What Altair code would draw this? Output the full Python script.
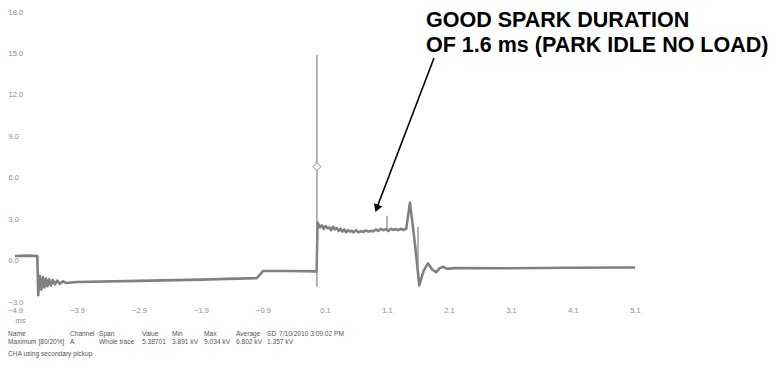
import altair as alt
import pandas as pd

# ---- data ----
time_ms = [-4.90, -4.70, -4.54, -4.525, -4.50, -4.475, -4.45, -4.425, -4.40, -4.375,
           -4.35, -4.32, -4.29, -4.255, -4.22, -4.175, -4.125, -4.08, -3.90, -2.90,
           -1.90, -1.00, -0.90, -0.50, -0.035,
           -0.02, 0.02, 0.05, 0.08, 0.11, 0.14, 0.17, 0.20, 0.23, 0.26, 0.29, 0.32,
           0.35, 0.38, 0.41, 0.44, 0.47, 0.50, 0.53, 0.56, 0.60, 0.64, 0.68, 0.72,
           0.76, 0.80, 0.84, 0.88, 0.92, 0.96, 1.00, 1.04, 1.08, 1.12, 1.16, 1.20,
           1.24, 1.28, 1.32, 1.36, 1.41, 1.47, 1.53, 1.58, 1.62, 1.69, 1.76, 1.83,
           1.89, 1.95, 2.01, 2.07, 2.20, 3.00, 4.00, 5.10]
voltage_kv = [0.33, 0.36, 0.33, -2.5, -1.1, -2.1, -1.2, -1.95, -1.3, -1.85,
              -1.35, -1.8, -1.4, -1.72, -1.45, -1.68, -1.5, -1.62, -1.55, -1.47,
              -1.38, -1.27, -0.76, -0.76, -0.78,
              2.75, 2.4, 2.55, 2.3, 2.5, 2.35, 2.4, 2.2, 2.45, 2.25, 2.35, 2.15,
              2.3, 2.1, 2.25, 2.05, 2.2, 2.1, 2.15, 2.05, 2.2, 2.05, 2.12, 2.08,
              2.18, 2.1, 2.15, 2.12, 2.25, 2.15, 2.3, 2.2, 2.28, 2.15, 2.3, 2.22,
              2.28, 2.2, 2.3, 2.22, 2.3, 4.2, 2.0, 0.0, -1.8, -0.75, -0.2, -0.65,
              -0.85, -0.55, -0.45, -0.6, -0.55, -0.56, -0.52, -0.5]

spike_t = [-0.03, 1.10, 1.60]
spike_low = [-1.9, 2.15, -0.45]
spike_high = [14.9, 3.25, 2.45]

marker_t = [-0.03]
marker_v = [6.8]

x_ticks = [-4.9, -3.9, -2.9, -1.9, -0.9, 0.1, 1.1, 2.1, 3.1, 4.1, 5.1]
y_ticks = [-3.0, 0.0, 3.0, 6.0, 9.0, 12.0, 15.0, 18.0]

header_cells = ["Name", "Channel", "Span", "Value", "Min", "Max", "Average", "SD",
                "7/10/2010 3:09:02 PM"]
row_cells = ["Maximum [80/20%]", "A", "Whole trace", "5.38701", "3.891 kV",
             "9.034 kV", "6.802 kV", "1.357 kV", ""]
note_text = "CHA using secondary pickup"
callout_lines = ["GOOD SPARK DURATION", "OF 1.6 ms (PARK IDLE NO LOAD)"]

# ---- layout (pixels relative to plot area) ----
col_x = [-7, 55, 84, 127, 157, 189, 221, 252, 264]
FONT = "Liberation Sans"
TRACE = "#808080"
LABEL = "#8c8c8c"
FOOT = "#555555"
FOOT_SIZE = 6.6

trace_df = pd.DataFrame({"t": time_ms, "v": voltage_kv})
spike_df = pd.DataFrame({"t": spike_t, "lo": spike_low, "hi": spike_high})
marker_df = pd.DataFrame({"t": marker_t, "v": marker_v})
one = pd.DataFrame({"k": [0]})

x_scale = alt.Scale(domain=[-4.9, 5.1], nice=False, zero=False)
y_scale = alt.Scale(domain=[-3, 18], nice=False, zero=False)

x_axis = alt.Axis(values=x_ticks, format=".1f", domain=False, ticks=False, tickSize=0,
                  grid=False, labelFontSize=7.5, labelColor=LABEL, labelFont=FONT,
                  labelPadding=4.5, labelFlush=False, labelOverlap=False,
                  title="ms", titleX=5, titleY=18, titleFontSize=7.5,
                  titleFontWeight="normal", titleColor=LABEL, titleFont=FONT,
                  titleAlign="center", titleBaseline="middle")
y_axis = alt.Axis(values=y_ticks, format=".1f", domain=False, ticks=False, tickSize=0,
                  grid=False, labelFontSize=7.5, labelColor=LABEL, labelFont=FONT,
                  labelAlign="left", labelPadding=7, labelFlush=False,
                  labelOverlap=False, title=None)

X = alt.X("t:Q", scale=x_scale, axis=x_axis)


def Y(field):
    return alt.Y(f"{field}:Q", scale=y_scale, axis=y_axis)


trace = alt.Chart(trace_df).mark_line(color=TRACE, strokeWidth=2.6,
                                      strokeJoin="round").encode(x=X, y=Y("v"))
spikes = alt.Chart(spike_df).mark_rule(color="#8a8a8a", strokeWidth=1.3).encode(
    x=X, y=Y("lo"), y2="hi:Q")
marker = alt.Chart(marker_df).mark_point(shape="diamond", filled=True, fill="white",
                                         stroke="#8a8a8a", strokeWidth=1, size=64,
                                         opacity=1).encode(x=X, y=Y("v"))

arrow_line = alt.Chart(one).mark_rule(color="black", strokeWidth=1.6).encode(
    x=alt.value(419), y=alt.value(46), x2=alt.value(361), y2=alt.value(198))
arrow_head = alt.Chart(one).mark_point(shape="triangle-up", filled=True, color="black",
                                       size=80, angle=200.7, opacity=1).encode(
    x=alt.value(361.8), y=alt.value(196.5))


def txt(s, x, y, size, color, weight="normal", baseline="middle"):
    return alt.Chart(one).mark_text(text=s, align="left", baseline=baseline,
                                    font=FONT, fontSize=size, fontWeight=weight,
                                    color=color).encode(x=alt.value(x), y=alt.value(y))


layers = [trace, spikes, marker, arrow_line, arrow_head,
          txt(callout_lines[0], 411, 14.5, 21.5, "black", "bold", "alphabetic"),
          txt(callout_lines[1], 411, 39.5, 21.5, "black", "bold", "alphabetic")]
for cx, h, r in zip(col_x, header_cells, row_cells):
    layers.append(txt(h, cx, 322, FOOT_SIZE, FOOT))
    if r:
        layers.append(txt(r, cx, 330, FOOT_SIZE, FOOT))
layers.append(txt(note_text, -7, 342, FOOT_SIZE, FOOT))

chart = alt.layer(*layers).properties(
    width=620, height=290,
    autosize=alt.AutoSizeParams(type="none"),
    padding={"left": 7, "top": 4, "right": 138, "bottom": 56},
    background="white",
).configure_view(stroke=None)

chart.save("out.html", embed_options={"renderer": "svg", "actions": False})
